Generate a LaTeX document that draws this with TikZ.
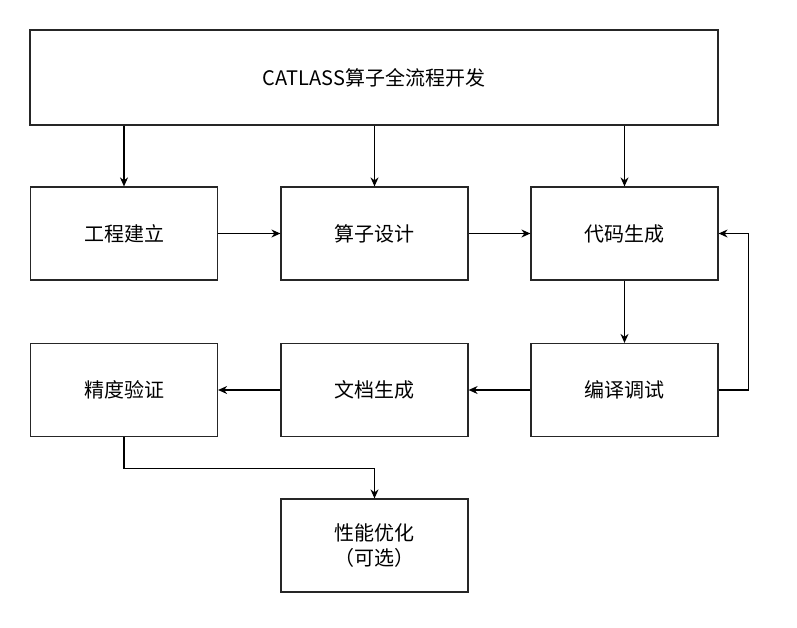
\documentclass[tikz,border=0pt]{standalone}
\usepackage{fontspec}
\setmainfont{Noto Sans CJK SC}
\usetikzlibrary{arrows.meta}
\tikzset{box/.style={draw=black!85, line width=1.2pt, minimum width=187pt,
  minimum height=93pt, align=center, font=\fontsize{20pt}{25pt}\selectfont},
  flow/.style={-{Stealth[length=9pt,width=8pt]}, line width=1.1pt}}
\begin{document}
\begin{tikzpicture}[x=1pt,y=-1pt]
\useasboundingbox (0,0) rectangle (797,627);

% top node spanning all columns
\node[box, minimum width=688pt, minimum height=95pt] (all) at (374,77.5) {CATLASS算子全流程开发};

% first row
\node[box] (proj) at (124,233.5) {工程建立};
\node[box] (design) at (374.5,233.5) {算子设计};
\node[box] (code) at (624.5,233.5) {代码生成};

% second row
\node[box] (check) at (124,390) {精度验证};
\node[box] (doc) at (374.5,390) {文档生成};
\node[box] (build) at (624.5,390) {编译调试};

% optional step
\node[box] (perf) at (374.5,545.5) {性能优化\\（可选）};

\draw[flow] (all.south -| proj) -- (proj);
\draw[flow] (all.south -| design) -- (design);
\draw[flow] (all.south -| code) -- (code);
\draw[flow] (proj) -- (design);
\draw[flow] (design) -- (code);
\draw[flow] (code) -- (build);
\draw[flow] (build.east) -- ++(30,0) |- (code.east);
\draw[flow] (build) -- (doc);
\draw[flow] (doc) -- (check);
\draw[flow] (check.south) -- ++(0,31) -| (perf.north);
\end{tikzpicture}
\end{document}
